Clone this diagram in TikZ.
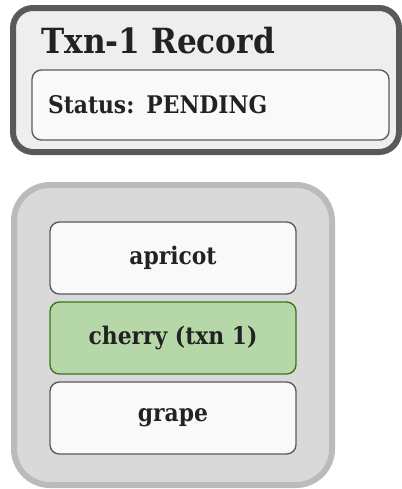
\documentclass[tikz,border=0pt]{standalone}
\usepackage{fontspec}
\newfontfamily\slabfont{DejaVuSerifCondensed-Bold.ttf}
\usetikzlibrary{positioning}

\definecolor{inkgray}{HTML}{222222}
\definecolor{recordedge}{HTML}{595959}
\definecolor{recordfill}{HTML}{EEEEEE}
\definecolor{bankedge}{HTML}{BBBBBB}
\definecolor{bankfill}{HTML}{D9D9D9}
\definecolor{slotedge}{HTML}{5A5A5A}
\definecolor{slotfill}{HTML}{F9F9F9}
\definecolor{heldedge}{HTML}{38761D}
\definecolor{heldfill}{HTML}{B6D7A8}

\tikzset{
  slot/.style={draw=slotedge, fill=slotfill, line width=1pt, rounded corners=7pt,
    minimum width=184.5pt, minimum height=54pt, inner sep=0pt,
    text=inkgray, font=\slabfont\fontsize{18.2}{21}\selectfont},
  heldslot/.style={slot, draw=heldedge, fill=heldfill}
}

\begin{document}
\begin{tikzpicture}[x=0.75pt, y=-0.75pt]
  \useasboundingbox (0,0) rectangle (402,489);

  % Transaction record
  \draw[recordedge, fill=recordfill, line width=4.5pt, rounded corners=15pt]
    (13,8) rectangle (399,152);
  \node[anchor=base west, inner sep=0pt, text=inkgray,
        font=\slabfont\fontsize{26}{30}\selectfont] (title) at (41,53) {Txn-1 Record};
  \node[slot, minimum width=267.75pt, minimum height=52.5pt, text width=243.75pt,
        align=left] (status) at (210.5,105) {Status: PENDING};

  % Key bank with its slots
  \draw[bankedge, fill=bankfill, line width=4.5pt, rounded corners=27pt]
    (14,185) rectangle (332,485);
  \foreach \n/\y/\txt/\sty in {
    apricot/258/{apricot}/slot,
    cherry/338/{cherry (txn 1)}/heldslot,
    grape/418/{grape}/slot} {
    \node[\sty] (\n) at (173,\y) {\txt};
  }
\end{tikzpicture}
\end{document}
